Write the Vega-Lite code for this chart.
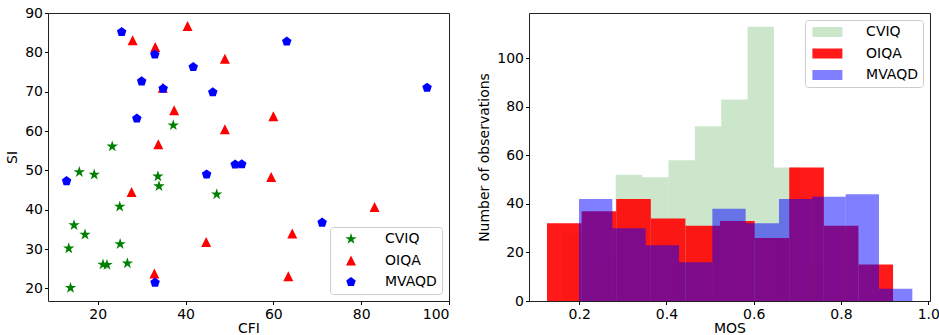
{
  "$schema": "https://vega.github.io/schema/vega-lite/v6.json",
  "background": "white",
  "padding": {"left": 5, "top": 5, "right": 0, "bottom": 0},
  "datasets": {
    "scatter": [
      {"set": "CVIQ", "cfi": 37.2, "si": 61.5},
      {"set": "CVIQ", "cfi": 23.3, "si": 56.1},
      {"set": "CVIQ", "cfi": 15.8, "si": 49.6},
      {"set": "CVIQ", "cfi": 19.2, "si": 48.95},
      {"set": "CVIQ", "cfi": 33.7, "si": 48.5},
      {"set": "CVIQ", "cfi": 33.95, "si": 46.0},
      {"set": "CVIQ", "cfi": 47.1, "si": 43.95},
      {"set": "CVIQ", "cfi": 25.0, "si": 40.8},
      {"set": "CVIQ", "cfi": 14.6, "si": 36.1},
      {"set": "CVIQ", "cfi": 17.1, "si": 33.7},
      {"set": "CVIQ", "cfi": 13.4, "si": 30.2},
      {"set": "CVIQ", "cfi": 25.1, "si": 31.3},
      {"set": "CVIQ", "cfi": 21.2, "si": 26.1},
      {"set": "CVIQ", "cfi": 22.1, "si": 26.0},
      {"set": "CVIQ", "cfi": 26.75, "si": 26.4},
      {"set": "CVIQ", "cfi": 13.8, "si": 20.15},
      {"set": "OIQA", "cfi": 27.95, "si": 83.1},
      {"set": "OIQA", "cfi": 40.45, "si": 86.7},
      {"set": "OIQA", "cfi": 33.1, "si": 81.4},
      {"set": "OIQA", "cfi": 48.95, "si": 78.4},
      {"set": "OIQA", "cfi": 34.8, "si": 71.05},
      {"set": "OIQA", "cfi": 37.4, "si": 65.3},
      {"set": "OIQA", "cfi": 48.95, "si": 60.5},
      {"set": "OIQA", "cfi": 33.8, "si": 56.65},
      {"set": "OIQA", "cfi": 27.7, "si": 44.5},
      {"set": "OIQA", "cfi": 44.7, "si": 31.8},
      {"set": "OIQA", "cfi": 32.9, "si": 23.8},
      {"set": "OIQA", "cfi": 60.0, "si": 63.8},
      {"set": "OIQA", "cfi": 59.5, "si": 48.35},
      {"set": "OIQA", "cfi": 83.05, "si": 40.7},
      {"set": "OIQA", "cfi": 64.3, "si": 34.0},
      {"set": "OIQA", "cfi": 63.4, "si": 23.1},
      {"set": "MVAQD", "cfi": 25.45, "si": 85.2},
      {"set": "MVAQD", "cfi": 33.0, "si": 79.5},
      {"set": "MVAQD", "cfi": 30.0, "si": 72.65},
      {"set": "MVAQD", "cfi": 34.9, "si": 70.8},
      {"set": "MVAQD", "cfi": 41.75, "si": 76.3},
      {"set": "MVAQD", "cfi": 46.2, "si": 69.9},
      {"set": "MVAQD", "cfi": 28.9, "si": 63.2},
      {"set": "MVAQD", "cfi": 51.3, "si": 51.5},
      {"set": "MVAQD", "cfi": 52.8, "si": 51.6},
      {"set": "MVAQD", "cfi": 12.9, "si": 47.3},
      {"set": "MVAQD", "cfi": 44.8, "si": 49.0},
      {"set": "MVAQD", "cfi": 33.05, "si": 21.5},
      {"set": "MVAQD", "cfi": 63.05, "si": 82.8},
      {"set": "MVAQD", "cfi": 95.0, "si": 71.05},
      {"set": "MVAQD", "cfi": 71.1, "si": 36.75}
    ],
    "hist": [
      {"set": "CVIQ", "lo": 0.1629, "hi": 0.2233, "n": 28},
      {"set": "CVIQ", "lo": 0.2233, "hi": 0.2838, "n": 17},
      {"set": "CVIQ", "lo": 0.2838, "hi": 0.3442, "n": 52},
      {"set": "CVIQ", "lo": 0.3442, "hi": 0.4047, "n": 51},
      {"set": "CVIQ", "lo": 0.4047, "hi": 0.4651, "n": 58},
      {"set": "CVIQ", "lo": 0.4651, "hi": 0.5255, "n": 72},
      {"set": "CVIQ", "lo": 0.5255, "hi": 0.5860, "n": 83},
      {"set": "CVIQ", "lo": 0.5860, "hi": 0.6464, "n": 113},
      {"set": "CVIQ", "lo": 0.6464, "hi": 0.7069, "n": 55},
      {"set": "CVIQ", "lo": 0.7069, "hi": 0.7673, "n": 15},
      {"set": "OIQA", "lo": 0.1263, "hi": 0.2056, "n": 32},
      {"set": "OIQA", "lo": 0.2056, "hi": 0.2849, "n": 37},
      {"set": "OIQA", "lo": 0.2849, "hi": 0.3642, "n": 42},
      {"set": "OIQA", "lo": 0.3642, "hi": 0.4435, "n": 34},
      {"set": "OIQA", "lo": 0.4435, "hi": 0.5228, "n": 31},
      {"set": "OIQA", "lo": 0.5228, "hi": 0.6021, "n": 33},
      {"set": "OIQA", "lo": 0.6021, "hi": 0.6814, "n": 26},
      {"set": "OIQA", "lo": 0.6814, "hi": 0.7607, "n": 55},
      {"set": "OIQA", "lo": 0.7607, "hi": 0.8400, "n": 31},
      {"set": "OIQA", "lo": 0.8400, "hi": 0.9193, "n": 15},
      {"set": "MVAQD", "lo": 0.1996, "hi": 0.2760, "n": 42},
      {"set": "MVAQD", "lo": 0.2760, "hi": 0.3524, "n": 30},
      {"set": "MVAQD", "lo": 0.3524, "hi": 0.4288, "n": 23},
      {"set": "MVAQD", "lo": 0.4288, "hi": 0.5052, "n": 16},
      {"set": "MVAQD", "lo": 0.5052, "hi": 0.5815, "n": 38},
      {"set": "MVAQD", "lo": 0.5815, "hi": 0.6579, "n": 32},
      {"set": "MVAQD", "lo": 0.6579, "hi": 0.7343, "n": 42},
      {"set": "MVAQD", "lo": 0.7343, "hi": 0.8107, "n": 43},
      {"set": "MVAQD", "lo": 0.8107, "hi": 0.8871, "n": 44},
      {"set": "MVAQD", "lo": 0.8871, "hi": 0.9635, "n": 5}
    ]
  },
  "config": {
    "font": "DejaVu Sans",
    "view": {"stroke": "#222", "strokeWidth": 1},
    "axis": {
      "domain": false, "grid": false,
      "tickColor": "#000", "tickWidth": 1, "tickSize": 3.5,
      "labelFont": "DejaVu Sans", "labelFontSize": 14, "labelColor": "#000",
      "titleFont": "DejaVu Sans", "titleFontSize": 14, "titleFontWeight": "normal", "titleColor": "#000"
    },
    "legend": {
      "labelFont": "DejaVu Sans", "labelFontSize": 14, "labelColor": "#000",
      "strokeColor": "#cccccc", "fillColor": "rgba(255,255,255,0.8)", "cornerRadius": 3,
      "padding": 5, "rowPadding": 7.5
    }
  },
  "spacing": 80,
  "bounds": "flush",
  "hconcat": [
    {
      "width": 401, "height": 288,
      "data": {"name": "scatter"},
      "mark": {"type": "point", "filled": true, "opacity": 1, "size": 100, "strokeWidth": 0},
      "encoding": {
        "x": {"field": "cfi", "type": "quantitative",
          "scale": {"domain": [8.67, 100.0], "nice": false, "zero": false},
          "axis": {"values": [20, 40, 60, 80, 100], "title": "CFI", "labelPadding": 2.5, "titlePadding": 0}},
        "y": {"field": "si", "type": "quantitative",
          "scale": {"domain": [16.82, 90.03], "nice": false, "zero": false},
          "axis": {"values": [20, 30, 40, 50, 60, 70, 80, 90], "title": "SI", "labelPadding": 2, "titlePadding": 5}},
        "color": {"field": "set", "type": "nominal",
          "scale": {"domain": ["CVIQ", "OIQA", "MVAQD"], "range": ["#008000", "#ff0000", "#0000ff"]},
          "legend": {"title": null, "orient": "bottom-right", "offset": 7.5, "symbolSize": 100, "symbolStrokeWidth": 0, "symbolOpacity": 1, "symbolOffset": 9, "labelOffset": 27}},
        "shape": {"field": "set", "type": "nominal",
          "scale": {"domain": ["CVIQ", "OIQA", "MVAQD"],
            "range": ["M0,-1.2L0.2694,-0.3708L1.1412,-0.3708L0.436,0.1416L0.7054,0.9708L0,0.4584L-0.7054,0.9708L-0.436,0.1416L-1.1412,-0.3708L-0.2694,-0.3708Z",
                      "M0,-1L1,1L-1,1Z",
                      "M0,-1L0.951,-0.309L0.5878,0.809L-0.5878,0.809L-0.951,-0.309Z"]},
          "legend": {"title": null, "orient": "bottom-right", "offset": 7.5, "symbolSize": 100, "symbolStrokeWidth": 0, "symbolOpacity": 1, "symbolOffset": 9, "labelOffset": 27}}
      }
    },
    {
      "width": 401, "height": 288,
      "data": {"name": "hist"},
      "mark": {"type": "rect", "strokeWidth": 0, "opacity": 1},
      "encoding": {
        "x": {"field": "lo", "type": "quantitative",
          "scale": {"domain": [0.085, 1.004], "nice": false, "zero": false},
          "axis": {"values": [0.2, 0.4, 0.6, 0.8, 1.0], "format": ".1f", "title": "MOS", "labelPadding": 2.5, "titlePadding": 0}},
        "x2": {"field": "hi"},
        "y": {"field": "n", "type": "quantitative",
          "scale": {"domain": [0, 118.7], "nice": false},
          "axis": {"values": [0, 20, 40, 60, 80, 100], "title": "Number of observations", "labelPadding": 2, "titlePadding": 5}},
        "y2": {"datum": 0},
        "color": {"field": "set", "type": "nominal",
          "scale": {"domain": ["CVIQ", "OIQA", "MVAQD"], "range": ["rgba(0,128,0,0.2)", "rgba(255,0,0,0.9)", "rgba(0,0,255,0.5)"]},
          "legend": {"title": null, "orient": "top-right", "offset": 7, "symbolType": "M-3,-1H3V1H-3Z", "symbolSize": 100, "symbolStrokeWidth": 0, "symbolOpacity": 1, "symbolOffset": 10.4, "labelOffset": 31.7}}
      }
    }
  ],
  "resolve": {
    "scale": {"color": "independent", "shape": "independent"},
    "legend": {"color": "independent", "shape": "independent"}
  }
}
